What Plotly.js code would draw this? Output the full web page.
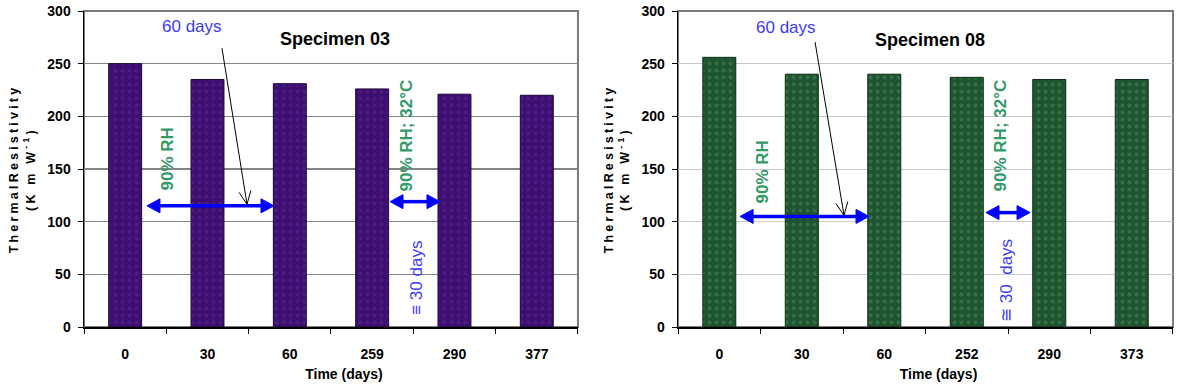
<!DOCTYPE html>
<html>
<head>
<meta charset="utf-8">
<script src="https://cdn.plot.ly/plotly-3.0.1.min.js"></script>
<style>
  html, body { margin: 0; padding: 0; background: #fff; }
  #chart { width: 1191px; height: 392px; }
</style>
</head>
<body>
<div id="chart"></div>
<script>
// ---- Data ----
const categories03 = ['0', '30', '60', '259', '290', '377'];
const values03 = [250, 235, 231, 226, 221, 220];
const categories08 = ['0', '30', '60', '252', '290', '373'];
const values08 = [256, 240, 240, 237, 235, 235];
const yTicks = [0, 50, 100, 150, 200, 250, 300];
const title03 = 'Specimen 03';
const title08 = 'Specimen 08';
const yTitle = 'ThermalResistivity<br>(K m W<sup>-1</sup>)';
const xTitle = 'Time (days)';

const FONT = 'Liberation Sans, Arial, Helvetica, sans-serif';
const W = 1191, H = 392;
const M = { l: 84, r: 18, t: 11, b: 65 };
const xDom1 = [0, 0.4536], xDom2 = [0.5455, 1];
const Y_MAX = 300;

const traces = [
  {
    type: 'bar', x: categories03, y: values03, xaxis: 'x', yaxis: 'y',
    marker: {
      color: '#3d0f70',
      line: { color: '#1c0436', width: 1 },
      pattern: { shape: '.', fgcolor: '#5a2a94', size: 7, solidity: 0.25, fillmode: 'overlay' }
    },
    hoverinfo: 'x+y', showlegend: false
  },
  {
    type: 'bar', x: categories08, y: values08, xaxis: 'x2', yaxis: 'y2',
    marker: {
      color: '#1e5530',
      line: { color: '#0c2a15', width: 1 },
      pattern: { shape: '.', fgcolor: '#4a8c5c', size: 7, solidity: 0.25, fillmode: 'overlay' }
    },
    hoverinfo: 'x+y', showlegend: false
  }
];

function xAxis(domain, anchor) {
  return {
    domain: domain, anchor: anchor, type: 'category', range: [-0.5, 5.5],
    showgrid: false, zeroline: false,
    showline: true, linecolor: '#000', linewidth: 1.5,
    ticks: 'outside', tickson: 'boundaries', ticklen: 5, tickcolor: '#000', tickwidth: 1,
    ticklabelstandoff: 14,
    tickfont: { family: FONT, size: 14, color: '#000', weight: 'bold' },
    title: { text: xTitle, standoff: 8, font: { family: FONT, size: 14, color: '#000', weight: 'bold' } },
    fixedrange: true
  };
}
function yAxis(anchor, gridcolor, gridwidth) {
  return {
    domain: [0, 1], anchor: anchor, range: [0, Y_MAX],
    tickmode: 'array', tickvals: yTicks, ticktext: yTicks.map(String),
    showgrid: true, gridcolor: gridcolor, gridwidth: gridwidth, zeroline: false,
    showline: true, linecolor: '#000', linewidth: 1.5,
    ticks: 'outside', ticklen: 5, tickcolor: '#000', tickwidth: 1,
    ticklabelstandoff: 4,
    tickfont: { family: FONT, size: 14, color: '#000', weight: 'bold' },
    title: { text: yTitle, standoff: 9, font: { family: FONT, size: 12.5, color: '#000', weight: 'bold' } },
    fixedrange: true
  };
}

const blue = '#0000ff';
const textBlue = '#3c3cf0';
const green = '#339966';

// pixel scale of one category / one y unit, used only to size arrowheads
const plotW = W - M.l - M.r, plotH = H - M.t - M.b;
function scales(dom) {
  return { px: plotW * (dom[1] - dom[0]) / 6, py: plotH / Y_MAX };
}

// arrowhead path in data units; tip at (tx,ty), direction (dx,dy) in pixels
function headPath(tx, ty, dxp, dyp, len, half, sc, closed) {
  const n = Math.hypot(dxp, dyp), ux = dxp / n, uy = dyp / n;
  const bx = -ux * len, by = -uy * len;
  const p1 = [bx - uy * half, by + ux * half], p2 = [bx + uy * half, by - ux * half];
  const toD = function (p) { return (tx + p[0] / sc.px) + ',' + (ty + p[1] / sc.py); };
  if (closed) return 'M' + toD(p1) + 'L' + tx + ',' + ty + 'L' + toD(p2) + 'Z';
  return 'M' + toD(p1) + 'L' + tx + ',' + ty + 'L' + toD(p2);
}

function panelShapes(xr, yr, dom, a1, a2, black) {
  const sc = scales(dom);
  const out = [];
  [a1, a2].forEach(function (a) {
    const len = 13, half = 7;
    out.push({ type: 'line', xref: xr, yref: yr, x0: a[0] + len * 0.8 / sc.px, x1: a[1] - len * 0.8 / sc.px,
      y0: a[2], y1: a[2], line: { color: blue, width: 3.5 } });
    out.push({ type: 'path', xref: xr, yref: yr, path: headPath(a[1], a[2], 1, 0, len, half, sc, true),
      fillcolor: blue, line: { color: blue, width: 1 } });
    out.push({ type: 'path', xref: xr, yref: yr, path: headPath(a[0], a[2], -1, 0, len, half, sc, true),
      fillcolor: blue, line: { color: blue, width: 1 } });
  });
  const dxp = (black[2] - black[0]) * sc.px, dyp = (black[3] - black[1]) * sc.py;
  out.push({ type: 'line', xref: xr, yref: yr, x0: black[0], y0: black[1], x1: black[2], y1: black[3],
    line: { color: '#000', width: 1 } });
  out.push({ type: 'path', xref: xr, yref: yr, path: headPath(black[2], black[3], dxp, dyp, 13, 6, sc, false),
    line: { color: '#000', width: 1 } });
  out.push({ type: 'rect', xref: xr + ' domain', yref: yr + ' domain', x0: 0, x1: 1, y0: 0, y1: 1,
    line: { color: '#7a7a7a', width: 2 }, layer: 'below' });
  return out;
}

function panelAnnotations(xr, yr, title, pos) {
  return [
    { xref: xr, yref: yr, x: pos.title[0], y: pos.title[1], text: title, showarrow: false,
      font: { family: FONT, size: 18, color: '#000', weight: 'bold' } },
    { xref: xr, yref: yr, x: pos.days60[0], y: pos.days60[1], text: '60 days', showarrow: false,
      font: { family: FONT, size: 17, color: textBlue } },
    { xref: xr, yref: yr, x: pos.rh[0], y: pos.rh[1], text: '90% RH', showarrow: false, textangle: -90,
      font: { family: FONT, size: 17, color: green, weight: 'bold' } },
    { xref: xr, yref: yr, x: pos.rh32[0], y: pos.rh32[1], text: '90% RH; 32°C', showarrow: false, textangle: -90,
      font: { family: FONT, size: 17, color: green, weight: 'bold' } },
    { xref: xr, yref: yr, x: pos.days30[0], y: pos.days30[1], text: pos.days30text, showarrow: false, textangle: -90,
      font: { family: FONT, size: 17, color: textBlue } }
  ];
}

const annotations = [].concat(
  panelAnnotations('x', 'y', title03, {
    title: [2.549, 273.3], days60: [0.812, 285.7], rh: [0.508, 160], rh32: [3.423, 181.8],
    days30: [3.53, 46.5], days30text: '≡ 30 days'
  }),
  panelAnnotations('x2', 'y2', title08, {
    title: [2.555, 272.4], days60: [0.809, 284.8], rh: [0.518, 146.7], rh32: [3.403, 181.9],
    days30: [3.488, 43.8], days30text: '≅ 30  days'
  })
);

const shapes = [].concat(
  panelShapes('x', 'y', xDom1, [0.265, 1.808, 115], [3.217, 3.824, 119], [1.176, 264.7, 1.480, 116.5]),
  panelShapes('x2', 'y2', xDom2, [0.252, 1.815, 105], [3.233, 3.767, 108.6], [1.161, 270.5, 1.512, 106])
);

const layout = {
  width: W, height: H,
  margin: M,
  paper_bgcolor: '#fff', plot_bgcolor: '#fff',
  bargap: 0.6,
  showlegend: false,
  xaxis: xAxis(xDom1, 'y'),
  yaxis: yAxis('x', '#858585', 1.5),
  xaxis2: xAxis(xDom2, 'y2'),
  yaxis2: yAxis('x2', '#c8c8c8', 1),
  annotations: annotations,
  shapes: shapes,
  font: { family: FONT, color: '#000' }
};

Plotly.newPlot('chart', traces, layout, { staticPlot: true, displayModeBar: false }).then(function () {
  document.querySelectorAll('.ytitle, .y2title').forEach(function (el) {
    el.style.letterSpacing = '3.2px';
  });
  document.querySelectorAll('.xtitle, .x2title').forEach(function (el) {
    el.setAttribute('transform', 'translate(13,0)');
  });
});
</script>
</body>
</html>
